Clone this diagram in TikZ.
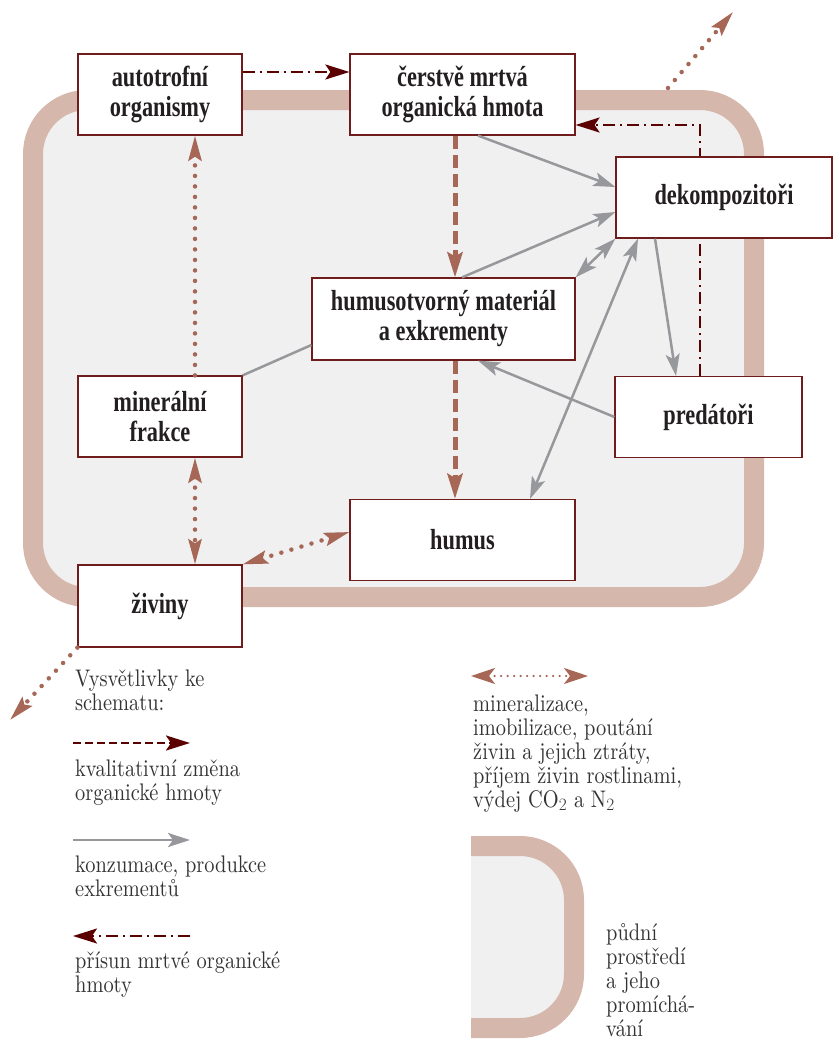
\documentclass[tikz,border=0pt]{standalone}
\usepackage{fontspec}
\usepackage{tikz}
\usetikzlibrary{arrows.meta}
\newfontfamily\boxfont{Liberation Serif}[FakeStretch=0.77]
\newfontfamily\legfont{lmroman10-regular.otf}[FakeStretch=0.85]
\definecolor{soil}{HTML}{D6B7AC}
\definecolor{inner}{HTML}{F0F0F0}
\definecolor{boxline}{HTML}{6E1C1C}
\definecolor{boxtext}{HTML}{231F20}
\definecolor{arrgray}{HTML}{97989B}
\definecolor{brown}{HTML}{A66757}
\definecolor{darkred}{HTML}{5A0000}
\definecolor{legtext}{HTML}{333333}
\pgfdeclarelayer{bg}
\pgfdeclarelayer{mid}
\pgfsetlayers{bg,mid,main}
\tikzset{
	gtip/.tip={Stealth[length=22pt, width=14pt, inset=5pt]},
	dtip/.tip={Stealth[length=24pt, width=15pt, inset=5pt]},
	qtip/.tip={Stealth[length=25pt, width=15pt, inset=4pt]},
	mtip/.tip={Stealth[length=25pt, width=13pt, inset=4pt]},
	box/.style={draw=boxline, line width=1.2pt, fill=white, minimum height=81pt, align=center, inner sep=2pt, text=boxtext, font=\boxfont\bfseries\fontsize{29}{30}\selectfont},
	legend/.style={align=left, inner sep=0pt, text=legtext, font=\legfont\fontsize{24}{24}\selectfont},
	band/.style={draw=soil, line width=20pt, rounded corners=54pt},
	qual/.style={brown, line width=5pt, dash pattern=on 13pt off 6pt, -qtip},
	cons/.style={arrgray, line width=2.5pt, -gtip},
	supply/.style={darkred, line width=2.5pt, dash pattern=on 12pt off 5pt on 2pt off 5pt, -dtip},
	miner/.style={brown, line width=4.5pt, line cap=round, dash pattern=on 0pt off 10.5pt, -mtip},
}

\begin{document}
\begin{tikzpicture}[x=1pt, y=-1pt]

	\useasboundingbox (0,0) rectangle (833,1041);

	\begin{pgfonlayer}{bg}
	\draw[band, fill=inner] (33,100) rectangle (754,597);
	\draw[band, fill=inner] (471,846) -- (574,846) -- (574,1028) -- (471,1028);
	\end{pgfonlayer}

	\node[box, minimum width=164pt] (auto) at (160,94.5) {autotrofní\\organismy};
	\node[box, minimum width=225pt] (cerstva) at (462.5,94.5) {čerstvě mrtvá\\organická hmota};
	\node[box, minimum width=216pt] (dekomp) at (724,197.5) {dekompozitoři};
	\node[box, minimum width=263pt, minimum height=82pt] (hummat) at (443.5,319) {humusotvorný materiál\\a exkrementy};
	\node[box, minimum width=164pt] (miner) at (160,416.5) {minerální\\frakce};
	\node[box, minimum width=187pt] (predat) at (708.5,417) {predátoři};
	\node[box, minimum width=225pt] (humus) at (462.5,540) {humus};
	\node[box, minimum width=164pt, minimum height=82pt] (ziviny) at (160,606) {živiny};

	\coordinate (soiltop) at (668,88);
	\coordinate (upout) at (733,12);
	\coordinate (downout) at (10,720);

	\begin{pgfonlayer}{mid}
	\draw[supply] ([xshift=-8.5pt]predat.north) |- ([yshift=-30.5pt]cerstva.east);
	\end{pgfonlayer}

	\draw[supply] ([yshift=22.5pt]auto.east) -- ([yshift=22.5pt]cerstva.west);
	\draw[qual] ([xshift=-7.5pt]cerstva.south) -- ([xshift=11.5pt]hummat.north);
	\draw[qual] ([xshift=11.5pt]hummat.south) -- ([xshift=-7.5pt]humus.north);

	\draw[cons] ([xshift=15.5pt]cerstva.south) -- ([yshift=10.5pt]dekomp.west);
	\draw[cons] ([xshift=18.5pt]hummat.north) -- ([yshift=-14.5pt]dekomp.west);
	\draw[cons, gtip-gtip] (hummat.north east) -- (dekomp.south west);
	\draw[cons, gtip-gtip] ([xshift=67.5pt]humus.north) -- ([xshift=-86pt]dekomp.south);
	\draw[cons] ([xshift=-69pt]dekomp.south) -- ([xshift=-32.5pt]predat.north);
	\draw[cons] (predat.west) -- ([xshift=34.5pt]hummat.south);
	\draw[cons, -] (miner.north east) -- ([yshift=-26pt]hummat.west);

	\draw[miner] ([xshift=35pt]miner.north) -- ([xshift=35pt]auto.south);
	\draw[miner, mtip-mtip] ([xshift=35pt]miner.south) -- ([xshift=35pt]ziviny.north);
	\draw[miner, mtip-mtip] (ziviny.north east) -- ([yshift=8pt]humus.west);
	\draw[miner] (soiltop) -- (upout);
	\draw[miner] (ziviny.south west) -- (downout);

	% vysvetlivky
	\coordinate (lq1) at (73,743);
	\coordinate (lq2) at (190,743);
	\coordinate (lc1) at (73,840);
	\coordinate (lc2) at (190,840);
	\coordinate (ls1) at (190,936);
	\coordinate (ls2) at (73,936);
	\coordinate (lm1) at (471,676);
	\coordinate (lm2) at (588,676);

	\draw[darkred, line width=2.5pt, dash pattern=on 8pt off 4pt, -dtip] (lq1) -- (lq2);
	\draw[cons] (lc1) -- (lc2);
	\draw[supply] (ls1) -- (ls2);
	\draw[miner, line width=2.5pt, dash pattern=on 0pt off 6.5pt, {Stealth[length=24pt, width=16pt, inset=6pt]}-{Stealth[length=24pt, width=16pt, inset=6pt]}] (lm1) -- (lm2);

	\node[legend, anchor=base west] (lhead) at (75,710) {Vysvětlivky ke\\schematu:};
	\node[legend, anchor=base west] (lqual) at (75,800) {kvalitativní změna\\organické hmoty};
	\node[legend, anchor=base west] (lcons) at (75,896) {konzumace, produkce\\exkrementů};
	\node[legend, anchor=base west] (lsupp) at (75,992) {přísun mrtvé organické\\hmoty};
	\node[legend, anchor=base west] (lminer) at (473,807) {mineralizace,\\imobilizace, poutání\\živin a jejich ztráty,\\příjem živin rostlinami,\\výdej CO$_2$ a N$_2$};
	\node[legend, anchor=base west] (lsoil) at (606,1036) {půdní\\prostředí\\a jeho\\promíchá-\\vání};

\end{tikzpicture}
\end{document}
